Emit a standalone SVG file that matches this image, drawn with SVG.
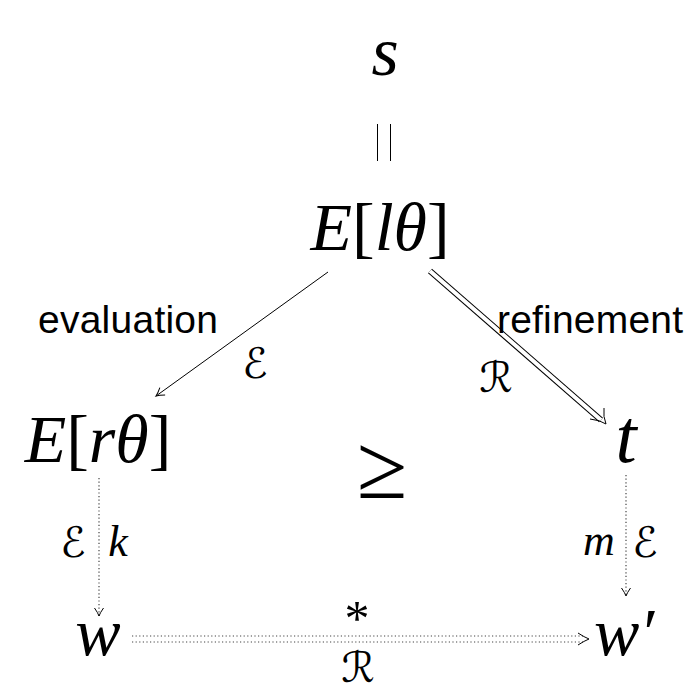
<svg xmlns="http://www.w3.org/2000/svg" width="685" height="700" viewBox="0 0 685 700">
<style>
.m{font-family:"Liberation Serif","DejaVu Serif",serif;font-style:italic;fill:#000}
.r{font-style:normal}
.big{font-size:68px}
.lbl{font-size:44px}
.cal{font-family:"DejaVu Serif","DejaVu Sans",serif;font-style:italic;font-size:42px;fill:#000}
.sans{font-family:"Liberation Sans","DejaVu Sans",sans-serif;font-size:39px;fill:#000}
.ln{stroke:#000;stroke-width:1;fill:none}
.dot{stroke:#444;stroke-width:1.2;stroke-dasharray:1.2 2.4;fill:none}
.head{stroke:#000;stroke-width:1;fill:none}
</style>
<defs>
<marker id="ah" viewBox="-10 -6 12 12" refX="0" refY="0" markerWidth="12" markerHeight="12" markerUnits="userSpaceOnUse" orient="auto">
<path d="M-8,-4.5 Q-3,-1 0,0 Q-3,1 -8,4.5" stroke="#000" stroke-width="1" fill="none"/>
</marker>
</defs>
<rect width="685" height="700" fill="#fff"/>
<g id="connectors">
<line class="ln" x1="377.5" y1="124" x2="377.5" y2="161"/>
<line class="ln" x1="390.5" y1="124" x2="390.5" y2="161"/>
<line class="ln" x1="328" y1="272" x2="156" y2="396" marker-end="url(#ah)"/>
<g id="refine-arrow">
<line x1="430" y1="271" x2="601" y2="420" stroke="#000" stroke-width="6"/>
<line x1="430" y1="271" x2="601" y2="420" stroke="#fff" stroke-width="4"/>
<path class="head" d="M590,419 Q600,420 606,424 Q603,417 604,408"/>
</g>
<line class="dot" x1="99" y1="478" x2="99" y2="616" marker-end="url(#ah)"/>
<line class="dot" x1="626" y1="475" x2="626" y2="596" marker-end="url(#ah)"/>
<line class="dot" x1="132" y1="636" x2="584" y2="636"/>
<line class="dot" x1="132" y1="642" x2="584" y2="642"/>
<path class="head" d="M578,633 Q584,637 589,639 Q584,641 578,645"/>
</g>
<g id="node-s"><text class="m" x="385" y="75" font-size="70" text-anchor="middle">s</text></g>
<g id="node-Elt"><text class="m big" x="380" y="250" text-anchor="middle">E<tspan class="r">[</tspan>lθ<tspan class="r">]</tspan></text></g>
<g id="node-Ert"><text class="m big" x="98" y="462" text-anchor="middle">E<tspan class="r">[</tspan>rθ<tspan class="r">]</tspan></text></g>
<g id="node-t"><text class="m" x="626" y="462" font-size="76" text-anchor="middle">t</text></g>
<g id="node-geq"><text class="m r" x="382" y="498" font-size="92" text-anchor="middle">≥</text></g>
<g id="node-w"><text class="m big" x="98" y="655" text-anchor="middle">w</text></g>
<g id="node-w2"><text class="m big" x="624" y="655" text-anchor="middle">w′</text></g>
<g id="labels">
<text class="sans" x="38" y="333" textLength="180">evaluation</text>
<text class="sans" x="497" y="333" textLength="186">refinement</text>
<text class="cal" x="255" y="378" text-anchor="middle">ℰ</text>
<text class="cal" x="496" y="392" text-anchor="middle">ℛ</text>
<text class="cal" x="73" y="557" text-anchor="middle">ℰ</text>
<text class="m lbl" x="118" y="556" text-anchor="middle">k</text>
<text class="m lbl" x="599" y="555" text-anchor="middle">m</text>
<text class="cal" x="645" y="557" text-anchor="middle">ℰ</text>
<text class="m r" x="357" y="635" font-size="50" text-anchor="middle">*</text>
<text class="cal" x="358" y="682" text-anchor="middle">ℛ</text>
</g>
</svg>
